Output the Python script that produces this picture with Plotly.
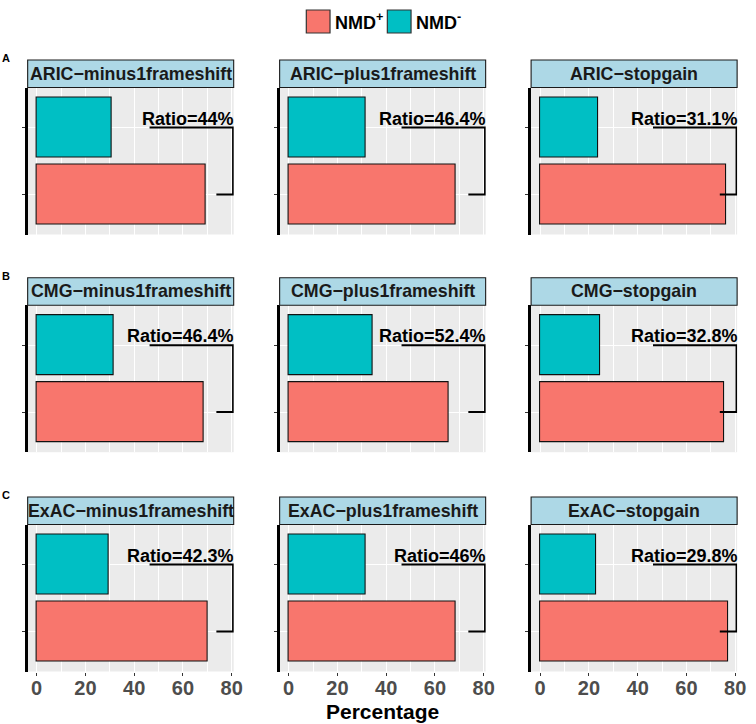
import plotly.graph_objects as go

# ---------------- data ----------------
cohorts = ["ARIC", "CMG", "ExAC"]
variant_types = ["minus1frameshift", "plus1frameshift", "stopgain"]
groups = ["NMD+", "NMD-"]
# percentage of variants, row = cohort, column = variant type
nmd_plus = [
    [69.4, 68.3, 76.3],
    [68.3, 65.6, 75.3],
    [70.3, 68.5, 77.0],
]
nmd_minus = [
    [30.6, 31.7, 23.7],
    [31.7, 34.4, 24.7],
    [29.7, 31.5, 23.0],
]
ratio_labels = [
    ["44%", "46.4%", "31.1%"],
    ["46.4%", "52.4%", "32.8%"],
    ["42.3%", "46%", "29.8%"],
]
row_letters = ["A", "B", "C"]
x_ticks = [0, 20, 40, 60, 80]
x_minor = [10, 30, 50, 70]
bracket_x_top = [46.3, 80.55]
bracket_x_bottom = [73.7, 80.55]

# ---------------- styling ----------------
W, H = 756, 724
FONT = "Liberation Sans, Arial, Helvetica, sans-serif"
RED = "#F8766D"
TEAL = "#00BFC4"
STRIP = "#ADD8E6"
col_left = [28.0, 283.0, 537.5]
panel_w = 208.5
strip_top = [60.0, 277.7, 497.0]
strip_h = 27.5
panel_h = 147.0
x_range = [-3.7, 80.8]

fig = go.Figure()
shapes = []
annotations = []

for r in range(3):
    for c in range(3):
        k = r * 3 + c + 1
        xname = "x" if k == 1 else f"x{k}"
        yname = "y" if k == 1 else f"y{k}"
        xl = "xaxis" if k == 1 else f"xaxis{k}"
        yl = "yaxis" if k == 1 else f"yaxis{k}"

        x0 = col_left[c]
        x1 = x0 + panel_w
        ptop = strip_top[r] + strip_h
        pbot = ptop + panel_h

        fig.add_trace(go.Bar(
            x=[nmd_plus[r][c], nmd_minus[r][c]],
            y=groups,
            orientation="h",
            width=0.9,
            marker=dict(color=[RED, TEAL], line=dict(color="#111111", width=1.1)),
            xaxis=xname, yaxis=yname, showlegend=False,
        ))
        # bracket
        fig.add_trace(go.Scatter(
            x=[bracket_x_top[0], bracket_x_top[1], bracket_x_bottom[1], bracket_x_bottom[0]],
            y=["NMD-", "NMD-", "NMD+", "NMD+"],
            mode="lines", line=dict(color="black", width=2),
            xaxis=xname, yaxis=yname, showlegend=False, hoverinfo="skip",
        ))
        annotations.append(dict(
            x=80.6, y=1, xref=xname, yref=yname,
            text="<b>Ratio=" + ratio_labels[r][c] + "</b>",
            showarrow=False, xanchor="right", yanchor="bottom",
            xshift=3, yshift=-3,
            font=dict(family=FONT, size=18, color="black"),
        ))

        bottom_row = (r == 2)
        fig.layout[xl] = dict(
            domain=[x0 / W, x1 / W],
            anchor=yname,
            range=x_range,
            tickvals=x_ticks,
            showgrid=True, gridcolor="white", gridwidth=1.1,
            minor=dict(tickvals=x_minor, showgrid=True, gridcolor="white", gridwidth=0.5),
            zeroline=False, showline=False,
            ticks="outside" if bottom_row else "",
            ticklen=3, tickcolor="#333333", tickwidth=1,
            showticklabels=bottom_row,
            ticklabelstandoff=-5,
            tickfont=dict(family=FONT, size=20, color="#4D4D4D", weight="bold"),
            fixedrange=True,
        )
        fig.layout[yl] = dict(
            domain=[1 - pbot / H, 1 - ptop / H],
            anchor=xname,
            type="category",
            categoryorder="array", categoryarray=groups,
            range=[-0.6, 1.6],
            showticklabels=False,
            ticks="outside", ticklen=3, tickcolor="#333333", tickwidth=1,
            showgrid=True, gridcolor="white", gridwidth=1.1,
            zeroline=False,
            showline=True, linecolor="black", linewidth=2.5,
            fixedrange=True,
        )

        # strip
        shapes.append(dict(
            type="rect", xref="paper", yref="paper",
            x0=x0 / W, x1=x1 / W,
            y0=1 - ptop / H, y1=1 - strip_top[r] / H,
            fillcolor=STRIP, line=dict(color="#1A1A1A", width=1.1),
        ))
        annotations.append(dict(
            x=(x0 + x1) / 2 / W, y=1 - (strip_top[r] + strip_h / 2) / H,
            xref="paper", yref="paper",
            text="<b>" + cohorts[r] + "\u2212" + variant_types[c] + "</b>",
            showarrow=False, xanchor="center", yanchor="middle",
            font=dict(family=FONT, size=17.8, color="#1A1A1A"),
        ))

    # row letter
    annotations.append(dict(
        x=6 / W, y=1 - (strip_top[r] - 2) / H, xref="paper", yref="paper",
        text="<b>" + row_letters[r] + "</b>", showarrow=False,
        xanchor="center", yanchor="middle",
        font=dict(family=FONT, size=11, color="black"),
    ))

# legend (manual)
legend_items = [("NMD<sup>+</sup>", RED, 310), ("NMD<sup>-</sup>", TEAL, 392)]
for label, color, lx in legend_items:
    shapes.append(dict(
        type="rect", xref="paper", yref="paper",
        x0=lx / W, x1=(lx + 24) / W, y0=1 - 33 / H, y1=1 - 10 / H,
        fillcolor=color, line=dict(color="#333333", width=1.2),
    ))
    annotations.append(dict(
        x=(lx + 27) / W, y=1 - 21 / H, xref="paper", yref="paper",
        text="<b>" + label + "</b>", showarrow=False,
        xanchor="left", yanchor="middle",
        font=dict(family=FONT, size=18, color="black"),
    ))

# x axis title
annotations.append(dict(
    x=387 / W, y=1 - 711 / H, xref="paper", yref="paper",
    text="<b>Percentage</b>", showarrow=False,
    xanchor="center", yanchor="middle",
    font=dict(family=FONT, size=21, color="black"),
))

fig.update_layout(
    width=W, height=H,
    margin=dict(l=0, r=0, t=0, b=0),
    paper_bgcolor="white",
    plot_bgcolor="#EBEBEB",
    shapes=shapes,
    annotations=annotations,
    bargap=0,
    showlegend=False,
)

fig.write_html(
    "out.html",
    config={"displayModeBar": False},
    post_script="document.body.style.margin='0';document.body.style.overflow='hidden';",
)
